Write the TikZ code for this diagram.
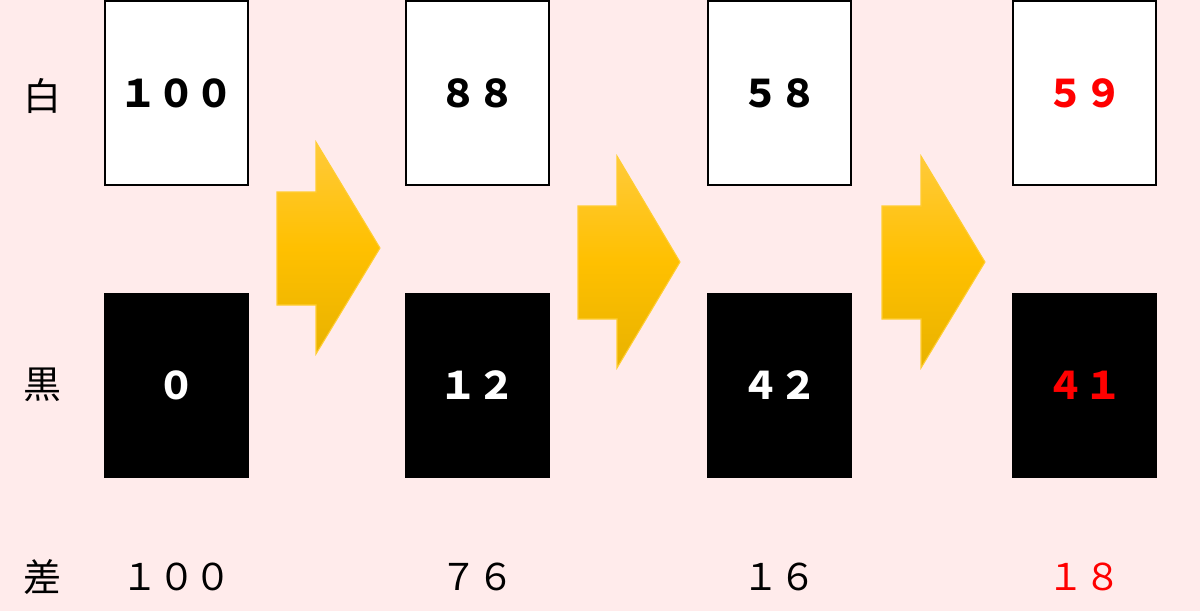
\documentclass[tikz,border=0pt]{standalone}
\usepackage{fontspec}
\newfontfamily\jpfont{Noto Sans CJK JP}
\usetikzlibrary{positioning}
\definecolor{bgpink}{HTML}{FFEBEB}
\definecolor{arrtop}{HTML}{FFCA3A}
\definecolor{arrmid}{HTML}{FFC000}
\definecolor{arrbot}{HTML}{E8B200}
\definecolor{hired}{HTML}{FF0000}
\begin{document}
\begin{tikzpicture}[x=0.01cm, y=-0.01cm, font=\jpfont,
    card/.style={draw=black, line width=0.5pt, minimum width=1.43cm, minimum height=1.84cm, inner sep=0pt, font=\jpfont\bfseries\fontsize{10.8}{12}\selectfont},
    whitecard/.style={card, fill=white, text=black},
    blackcard/.style={card, fill=black, text=white},
    rowlabel/.style={inner sep=0pt, font=\jpfont\fontsize{10.8}{12}\selectfont},
    diff/.style={inner sep=0pt, font=\jpfont\fontsize{10.5}{12}\selectfont},
    arrowfill/.style={top color=arrtop, bottom color=arrbot, middle color=arrmid, draw=arrmid!80!white, line width=0.3pt}]

    \fill[bgpink] (0,0) rectangle (1200,611);
    \useasboundingbox (0,0) rectangle (1200,611);

    % Nodes
    \node (w1) [whitecard] at (176.5,93) {１００};
    \node (w2) [whitecard] at (477.5,93) {８８};
    \node (w3) [whitecard] at (779.5,93) {５８};
    \node (w4) [whitecard, text=hired] at (1084.5,93) {５９};

    \node (b1) [blackcard] at (176.5,385.5) {０};
    \node (b2) [blackcard] at (477.5,385.5) {１２};
    \node (b3) [blackcard] at (779.5,385.5) {４２};
    \node (b4) [blackcard, text=hired] at (1084.5,385.5) {４１};

    \node (d1) [diff] at (176.5,577) {１００};
    \node (d2) [diff] at (477.5,577) {７６};
    \node (d3) [diff] at (779.5,577) {１６};
    \node (d4) [diff, text=hired] at (1084.5,577) {１８};

    \node (lw) [rowlabel] at (42,96) {白};
    \node (lb) [rowlabel] at (42,385) {黒};
    \node (ld) [rowlabel] at (42,577) {差};

    % Arrows
    \shade[arrowfill] (277,192) -- (316,192) -- (316,142) -- (380,248) -- (316,354) -- (316,305) -- (277,305) -- cycle;
    \shade[arrowfill] (578,206) -- (617,206) -- (617,156) -- (680,262) -- (617,368) -- (617,319) -- (578,319) -- cycle;
    \shade[arrowfill] (882,206) -- (921,206) -- (921,156) -- (985,262) -- (921,368) -- (921,319) -- (882,319) -- cycle;

\end{tikzpicture}
\end{document}
